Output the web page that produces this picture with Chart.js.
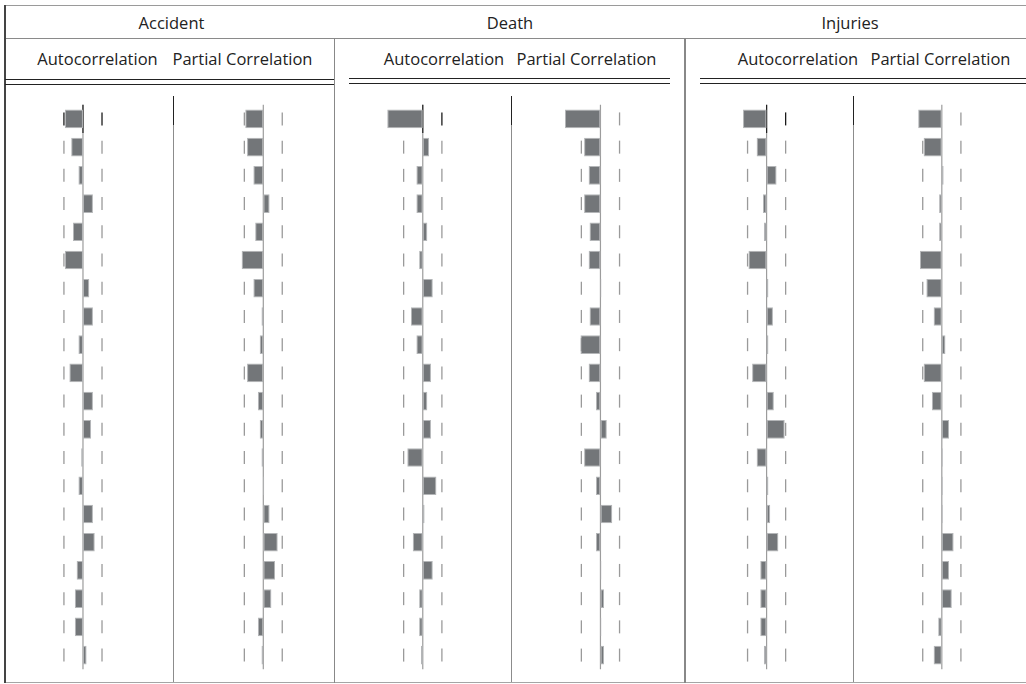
<!DOCTYPE html>
<html>
<head>
<meta charset="utf-8">
<script src="https://cdn.jsdelivr.net/npm/chart.js@4.4.1/dist/chart.umd.min.js"></script>
<style>
  html, body { margin: 0; padding: 0; background: #fff; }
  #wrap { position: relative; width: 1026px; height: 684px; overflow: hidden; background: #fff;
          font-family: "Open Sans", "Noto Sans", sans-serif; color: #222; }
  .ln { position: absolute; }
  .txt { position: absolute; width: 240px; text-align: center; line-height: 20px; white-space: nowrap; }
  canvas { position: absolute; }
</style>
</head>
<body>
<div id="wrap"></div>
<script>
// Lags 1..20
const lags = Array.from({ length: 20 }, (_, i) => String(i + 1));

// Correlogram values per series
const accidentAC   = [-0.20, -0.13, -0.05, 0.11, -0.11, -0.20, 0.07, 0.11, -0.05, -0.15, 0.11, 0.09, -0.02, -0.05, 0.11, 0.13, -0.07, -0.09, -0.09, 0.04];
const accidentPACF = [-0.20, -0.18, -0.11, 0.07, -0.09, -0.24, -0.11, -0.02, -0.04, -0.18, -0.06, -0.04, -0.02, 0.01, 0.07, 0.16, 0.13, 0.09, -0.06, -0.02];
const deathAC      = [-0.39, 0.07, -0.07, -0.07, 0.05, -0.04, 0.11, -0.13, -0.07, 0.09, 0.05, 0.09, -0.17, 0.15, 0.02, -0.11, 0.11, -0.04, -0.04, -0.02];
const deathPACF    = [-0.39, -0.18, -0.13, -0.18, -0.12, -0.13, 0.01, -0.12, -0.22, -0.13, -0.05, 0.07, -0.18, -0.05, 0.13, -0.05, 0.01, 0.04, 0.01, 0.04];
const injuriesAC   = [-0.26, -0.11, 0.11, -0.04, -0.03, -0.20, 0.02, 0.07, 0.02, -0.16, 0.08, 0.20, -0.11, 0.02, 0.04, 0.13, -0.07, -0.07, -0.07, -0.03];
const injuriesPACF = [-0.26, -0.20, 0.02, -0.03, -0.03, -0.24, -0.17, -0.09, 0.04, -0.20, -0.11, 0.08, 0.01, 0.01, 0.01, 0.13, 0.08, 0.11, -0.04, -0.09];

// Approximate 95% confidence bound (±2/sqrt(T))
const BOUND = 0.21;

// Header texts
const panelTitles  = ['Accident', 'Death', 'Injuries'];
const columnTitles = ['Autocorrelation', 'Partial Correlation'];

// Page layout (pixels)
const PX_PER_UNIT = 100;
const PLOT_TOP = 97, PLOT_H = 580;
const panelCenters = [171.5, 510, 850];
const columns = [
  { values: accidentAC,   left: 6,   right: 173,  zero: 82.3,  head: 97.5,  ac: true  },
  { values: accidentPACF, left: 174, right: 334,  zero: 264.3, head: 242.5, ac: false },
  { values: deathAC,      left: 336, right: 511,  zero: 422.7, head: 444,   ac: true  },
  { values: deathPACF,    left: 512, right: 684,  zero: 600.7, head: 586.5, ac: false },
  { values: injuriesAC,   left: 686, right: 853,  zero: 766.3, head: 798,   ac: true  },
  { values: injuriesPACF, left: 854, right: 1026, zero: 942,   head: 940.5, ac: false }
];

const wrap = document.getElementById('wrap');

function hline(x1, x2, y, color, th) {
  const d = document.createElement('div');
  d.className = 'ln';
  Object.assign(d.style, { left: x1 + 'px', top: (y - th / 2) + 'px', width: (x2 - x1) + 'px', height: th + 'px', background: color });
  wrap.appendChild(d);
}
function vline(x, y1, y2, color, th) {
  const d = document.createElement('div');
  d.className = 'ln';
  Object.assign(d.style, { left: (x - th / 2) + 'px', top: y1 + 'px', width: th + 'px', height: (y2 - y1) + 'px', background: color });
  wrap.appendChild(d);
}
function text(str, cx, top, size) {
  const d = document.createElement('div');
  d.className = 'txt';
  d.textContent = str;
  Object.assign(d.style, { left: (cx - 120) + 'px', top: top + 'px', fontSize: size + 'px' });
  wrap.appendChild(d);
}

// Table frame
hline(5, 1026, 5.5, '#9a9a9a', 1);
hline(5, 1026, 38, '#8a8a8a', 1);
hline(5, 1026, 682, '#a5a5a5', 1);
vline(5, 5, 683, '#444', 1.6);
vline(334.5, 38, 683, '#888', 1.4);
vline(685, 38, 683, '#888', 1.4);

// Double rules under the column headers
hline(5, 334, 79.3, '#222', 1);
hline(5, 334, 84.3, '#222', 1);
hline(349, 670, 78.7, '#222', 1);
hline(349, 670, 83.7, '#222', 1);
hline(700, 1026, 78.3, '#222', 1);
hline(700, 1026, 83.3, '#222', 1);

// Separators between the autocorrelation and partial correlation columns
[173.3, 511.7, 853.7].forEach(x => {
  vline(x, 96, 682, '#8c8c8c', 1.1);
  vline(x, 96, 125, '#222', 1.1);
});

// Headers
panelTitles.forEach((t, i) => text(t, panelCenters[i], 13, 16.5));
columns.forEach((c, i) => text(columnTitles[i % 2], c.head, 48.6, 16.5));

// Vertical zero line behind the bars
const zeroLine = {
  id: 'zeroLine',
  beforeDatasetsDraw(chart, args, opts) {
    const { ctx, chartArea: { top, bottom } } = chart;
    const x = chart.scales.x.getPixelForValue(0);
    const y = chart.scales.y;
    const firstEdge = (y.getPixelForValue(0) + y.getPixelForValue(1)) / 2;
    ctx.save();
    ctx.lineWidth = 1.2;
    ctx.strokeStyle = '#9c9c9c';
    ctx.beginPath();
    ctx.moveTo(x, top);
    ctx.lineTo(x, bottom);
    ctx.stroke();
    if (opts.darkFirst) {
      ctx.strokeStyle = '#222';
      ctx.beginPath();
      ctx.moveTo(x, top);
      ctx.lineTo(x, firstEdge);
      ctx.stroke();
    }
    ctx.restore();
  }
};

columns.forEach(col => {
  const cv = document.createElement('canvas');
  const w = col.right - col.left;
  cv.width = w;
  cv.height = PLOT_H;
  Object.assign(cv.style, { left: col.left + 'px', top: PLOT_TOP + 'px', width: w + 'px', height: PLOT_H + 'px' });
  wrap.appendChild(cv);

  const dashColors = lags.map((_, i) => (col.ac && i === 0) ? '#1a1a1a' : '#9a9a9a');
  const boundSet = (sign) => ({
    type: 'line',
    indexAxis: 'y',
    data: lags.map(() => sign * BOUND),
    showLine: false,
    pointStyle: 'line',
    pointRotation: 90,
    pointRadius: 6.5,
    pointHoverRadius: 6.5,
    pointBorderWidth: 1.3,
    pointBorderColor: dashColors,
    pointBackgroundColor: 'rgba(0,0,0,0)',
    clip: false,
    order: 2
  });

  new Chart(cv, {
    type: 'bar',
    data: {
      labels: lags,
      datasets: [
        {
          type: 'bar',
          data: col.values,
          backgroundColor: '#737679',
          borderColor: '#b4b6b8',
          borderWidth: 1,
          borderSkipped: false,
          barPercentage: 0.66,
          categoryPercentage: 1,
          order: 1
        },
        boundSet(-1),
        boundSet(1)
      ]
    },
    options: {
      indexAxis: 'y',
      responsive: false,
      animation: false,
      events: [],
      layout: { padding: 0 },
      plugins: {
        legend: { display: false },
        tooltip: { enabled: false },
        zeroLine: { darkFirst: col.ac }
      },
      scales: {
        x: {
          type: 'linear',
          min: -(col.zero - col.left) / PX_PER_UNIT,
          max: (col.right - col.zero) / PX_PER_UNIT,
          display: false
        },
        y: { type: 'category', display: false }
      }
    },
    plugins: [zeroLine]
  });
});
</script>
</body>
</html>
